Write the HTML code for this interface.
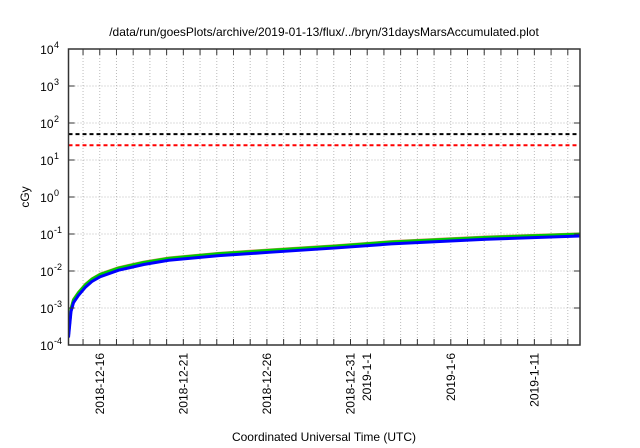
<!DOCTYPE html>
<html><head><meta charset="utf-8"><style>
body{margin:0;background:#fff;}
svg{display:block;font-family:"Liberation Sans",sans-serif;}
</style></head><body>
<svg id="chart" width="640" height="448">
<text x="324" y="36" font-size="12" text-anchor="middle">/data/run/goesPlots/archive/2019-01-13/flux/../bryn/31daysMarsAccumulated.plot</text>
<text transform="translate(29,197) rotate(-90)" font-size="12" text-anchor="middle">cGy</text>
<text x="324" y="441" font-size="12" text-anchor="middle">Coordinated Universal Time (UTC)</text>
<defs><clipPath id="clip"><rect x="68.5" y="49" width="511.5" height="296"/></clipPath></defs>
<g id="grid"></g><g id="series" clip-path="url(#clip)"></g><g id="axes"></g>
</svg>
<script>
const days = [0,0.15,0.3,0.6,1,1.4,1.9,3,4.5,6,9,12,16,19.3,25,30.6];
const blueVals = [1.6e-4,8e-4,1.4e-3,2.2e-3,3.6e-3,5.2e-3,7e-3,1.05e-2,1.5e-2,1.95e-2,2.6e-2,3.2e-2,4.2e-2,5.4e-2,7.2e-2,8.8e-2];
const greenVals = [1.9e-4,9.5e-4,1.65e-3,2.6e-3,4.2e-3,6e-3,8.1e-3,1.2e-2,1.7e-2,2.2e-2,2.95e-2,3.6e-2,4.7e-2,6.1e-2,8.1e-2,0.099];
const redVals = [1.9e-4,9.7e-4,1.7e-3,2.65e-3,4.3e-3,6.1e-3,8.3e-3,1.23e-2,1.74e-2,2.25e-2,3e-2,3.7e-2,4.8e-2,6.2e-2,8.3e-2,0.101];
const limitVals = [50,25];
const limitColors = ['#000','#ff0000'];
const yExps = [-4,-3,-2,-1,0,1,2,3,4];
const dateLabels = [["2018-12-16",1.87],["2018-12-21",6.87],["2018-12-26",11.87],["2018-12-31",16.87],["2019-1-1",17.87],["2019-1-6",22.87],["2019-1-11",27.87]];
const totalDays = 30.6;
const L=68.5,R=580,T=49,B=345;
const NS='http://www.w3.org/2000/svg';
const X=d=>L+(R-L)*d/totalDays;
const Y=v=>B-(B-T)*(Math.log10(v)+4)/8;
function mk(tag,attrs,parent){const e=document.createElementNS(NS,tag);for(const k in attrs)e.setAttribute(k,attrs[k]);parent.appendChild(e);return e;}
const grid=document.getElementById('grid'),ser=document.getElementById('series'),ax=document.getElementById('axes');
for(let d=1.87-1;d<totalDays;d+=1){if(d<=0.1)continue;const x=X(d);
 const g=mk('line',{x1:x,x2:x,y1:T,y2:B,stroke:'#bbb','stroke-dasharray':'1,2','stroke-width':1},grid);
 
 const t1=mk('line',{x1:x,x2:x,y1:B,y2:B-6,stroke:'#333'},ax);
 const t2=mk('line',{x1:x,x2:x,y1:T,y2:T+6,stroke:'#333'},ax);}
yExps.forEach(e=>{const y=Y(Math.pow(10,e));
 if(e>-4&&e<4){const g=mk('line',{x1:L,x2:R,y1:y,y2:y,stroke:'#bbb','stroke-dasharray':'1,2'},grid);
 mk('line',{x1:L,x2:L+6,y1:y,y2:y,stroke:'#333'},ax);mk('line',{x1:R,x2:R-6,y1:y,y2:y,stroke:'#333'},ax);}
 const t=mk('text',{x:L-15,y:y+5,'font-size':12,'text-anchor':'end'},ax);t.textContent='10';
 
 const s=mk('text',{x:L-14.5,y:y-1,'font-size':9},ax);s.textContent=String(e);
 });
dateLabels.forEach(([lab,d])=>{const x=X(d);const t=mk('text',{transform:`translate(${x+4},${B+8}) rotate(-90)`,'font-size':12,'text-anchor':'end'},ax);t.textContent=lab;
 });
limitVals.forEach((v,i)=>{const y=Y(v);const l=mk('line',{x1:L,x2:R,y1:y,y2:y,stroke:limitColors[i],'stroke-width':2,'stroke-dasharray':'4,3'},ser);
 });
function line(vals,color,name,w){const p=vals.map((v,i)=>X(days[i])+','+Y(v)).join(' ');
 const e=mk('polyline',{points:p,fill:'none',stroke:color,'stroke-width':w,'stroke-linejoin':'round'},ser);
 }
line(redVals,'#e08060','series-red',3);
line(greenVals,'#00cc00','series-green',3);
line(blueVals,'#0000ff','series-blue',3);
const fr=mk('rect',{x:L,y:T,width:R-L,height:B-T,fill:'none',stroke:'#333','stroke-width':1.5},ax);

</script>
</body></html>
